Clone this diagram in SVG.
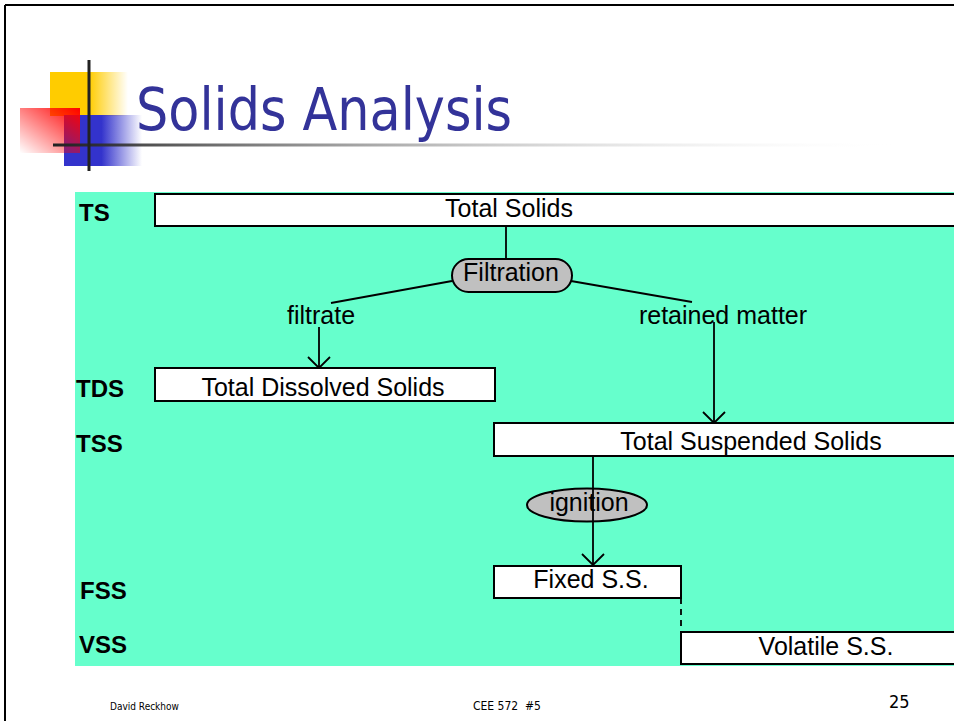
<svg xmlns="http://www.w3.org/2000/svg" width="954" height="721" viewBox="0 0 954 721">
  <style>
    .box { fill: #ffffff; stroke: #000000; stroke-width: 2; }
    .lbl { font-family: "Liberation Sans", Arial, sans-serif; font-size: 25px; fill: #000000; text-anchor: middle; }
    .tag { font-family: "Liberation Sans", Arial, sans-serif; font-size: 24px; font-weight: bold; fill: #000000; }
    .wire { stroke: #000000; stroke-width: 1.8; fill: none; }
    .head { stroke: #000000; stroke-width: 1.8; fill: none; }
    .foot { font-family: "DejaVu Sans Condensed", "DejaVu Sans", sans-serif; fill: #000000; }
  </style>
  <defs>
    <linearGradient id="yellowFade" x1="0" y1="0" x2="1" y2="0">
      <stop offset="0" stop-color="#FFCC00"/>
      <stop offset="0.5" stop-color="#FFCC00"/>
      <stop offset="1" stop-color="#FFCC00" stop-opacity="0"/>
    </linearGradient>
    <linearGradient id="blueFade" x1="0" y1="0" x2="1" y2="0">
      <stop offset="0" stop-color="#3333CC"/>
      <stop offset="0.48" stop-color="#3333CC"/>
      <stop offset="1" stop-color="#3333CC" stop-opacity="0"/>
    </linearGradient>
    <linearGradient id="redFade" x1="1" y1="0" x2="0" y2="1">
      <stop offset="0" stop-color="#FF0000"/>
      <stop offset="1" stop-color="#FF0000" stop-opacity="0"/>
    </linearGradient>
    <linearGradient id="ruleFade" x1="0" y1="0" x2="1" y2="0">
      <stop offset="0" stop-color="#222222"/>
      <stop offset="1" stop-color="#ffffff" stop-opacity="0"/>
    </linearGradient>
  </defs>

  <!-- page background and frame -->
  <rect x="0" y="0" width="954" height="721" fill="#ffffff"/>
  <line x1="5" y1="5" x2="954" y2="5" stroke="#000" stroke-width="2"/>
  <line x1="5" y1="5" x2="5" y2="721" stroke="#000" stroke-width="2"/>

  <!-- title decoration -->
  <g id="logo">
    <rect x="50" y="72" width="78" height="44" fill="url(#yellowFade)"/>
    <rect x="64" y="115" width="78" height="51" fill="url(#blueFade)"/>
    <rect x="20" y="108" width="60" height="45" fill="url(#redFade)"/>
    <rect x="53" y="143.5" width="850" height="3" fill="url(#ruleFade)"/>
    <rect x="87.5" y="60" width="3" height="111" fill="#222222"/>
  </g>
  <text x="136" y="130" font-family="'DejaVu Sans Condensed', 'DejaVu Sans', sans-serif" font-size="59" fill="#333399" textLength="376" lengthAdjust="spacingAndGlyphs">Solids Analysis</text>

  <!-- diagram panel -->
  <rect x="75" y="192" width="879" height="474" fill="#66FFCC"/>

  <!-- row tags -->
  <text class="tag" x="79" y="221">TS</text>
  <text class="tag" x="76" y="397">TDS</text>
  <text class="tag" x="76" y="452">TSS</text>
  <text class="tag" x="80" y="599">FSS</text>
  <text class="tag" x="79" y="653">VSS</text>

  <!-- connectors -->
  <g id="connectors">
    <line class="wire" x1="506" y1="226" x2="506" y2="259"/>
    <line class="wire" x1="452" y1="281" x2="331" y2="303"/>
    <line class="wire" x1="571" y1="281" x2="692" y2="302"/>
    <line class="wire" x1="319" y1="327" x2="319" y2="368"/>
    <polyline class="head" points="308,357 319,368 330,357"/>
    <line class="wire" x1="714" y1="322" x2="714" y2="423"/>
    <polyline class="head" points="703,412 714,423 725,412"/>
    <line class="wire" x1="681" y1="598" x2="681" y2="632" stroke-dasharray="6,5"/>
  </g>

  <g id="ts">
    <rect class="box" x="155" y="194" width="805" height="32"/>
    <text class="lbl" x="509" y="217">Total Solids</text>
  </g>

  <g id="filtration">
    <rect x="452" y="259" width="120" height="33" rx="16.5" fill="#C0C0C0" stroke="#000" stroke-width="2"/>
    <text class="lbl" x="511" y="281">Filtration</text>
  </g>

  <g id="filtrate">
    <text class="lbl" x="321" y="324">filtrate</text>
  </g>

  <g id="retained">
    <text class="lbl" x="723" y="324">retained matter</text>
  </g>

  <g id="tds">
    <rect class="box" x="155" y="368" width="340" height="33"/>
    <text class="lbl" x="323" y="396">Total Dissolved Solids</text>
  </g>

  <g id="tss">
    <rect class="box" x="494" y="423" width="466" height="33"/>
    <text class="lbl" x="751" y="450">Total Suspended Solids</text>
  </g>

  <g id="ignition">
    <ellipse cx="587" cy="505" rx="60" ry="16.5" fill="#C0C0C0" stroke="#000" stroke-width="2"/>
    <text class="lbl" x="589" y="511">ignition</text>
  </g>

  <g id="ignition-arrow">
    <line class="wire" x1="593" y1="456" x2="593" y2="565"/>
    <polyline class="head" points="582,554 593,565 604,554"/>
  </g>

  <g id="fss">
    <rect class="box" x="494" y="566" width="187" height="32"/>
    <text class="lbl" x="591" y="588">Fixed S.S.</text>
  </g>

  <g id="vss">
    <rect class="box" x="681" y="632" width="279" height="32"/>
    <text class="lbl" x="826" y="655">Volatile S.S.</text>
  </g>

  <!-- footer -->
  <text class="foot" x="110" y="710" font-size="10">David Reckhow</text>
  <text class="foot" x="473" y="710" font-size="12" xml:space="preserve">CEE 572  #5</text>
  <text class="foot" x="889" y="708" font-size="18">25</text>
</svg>
